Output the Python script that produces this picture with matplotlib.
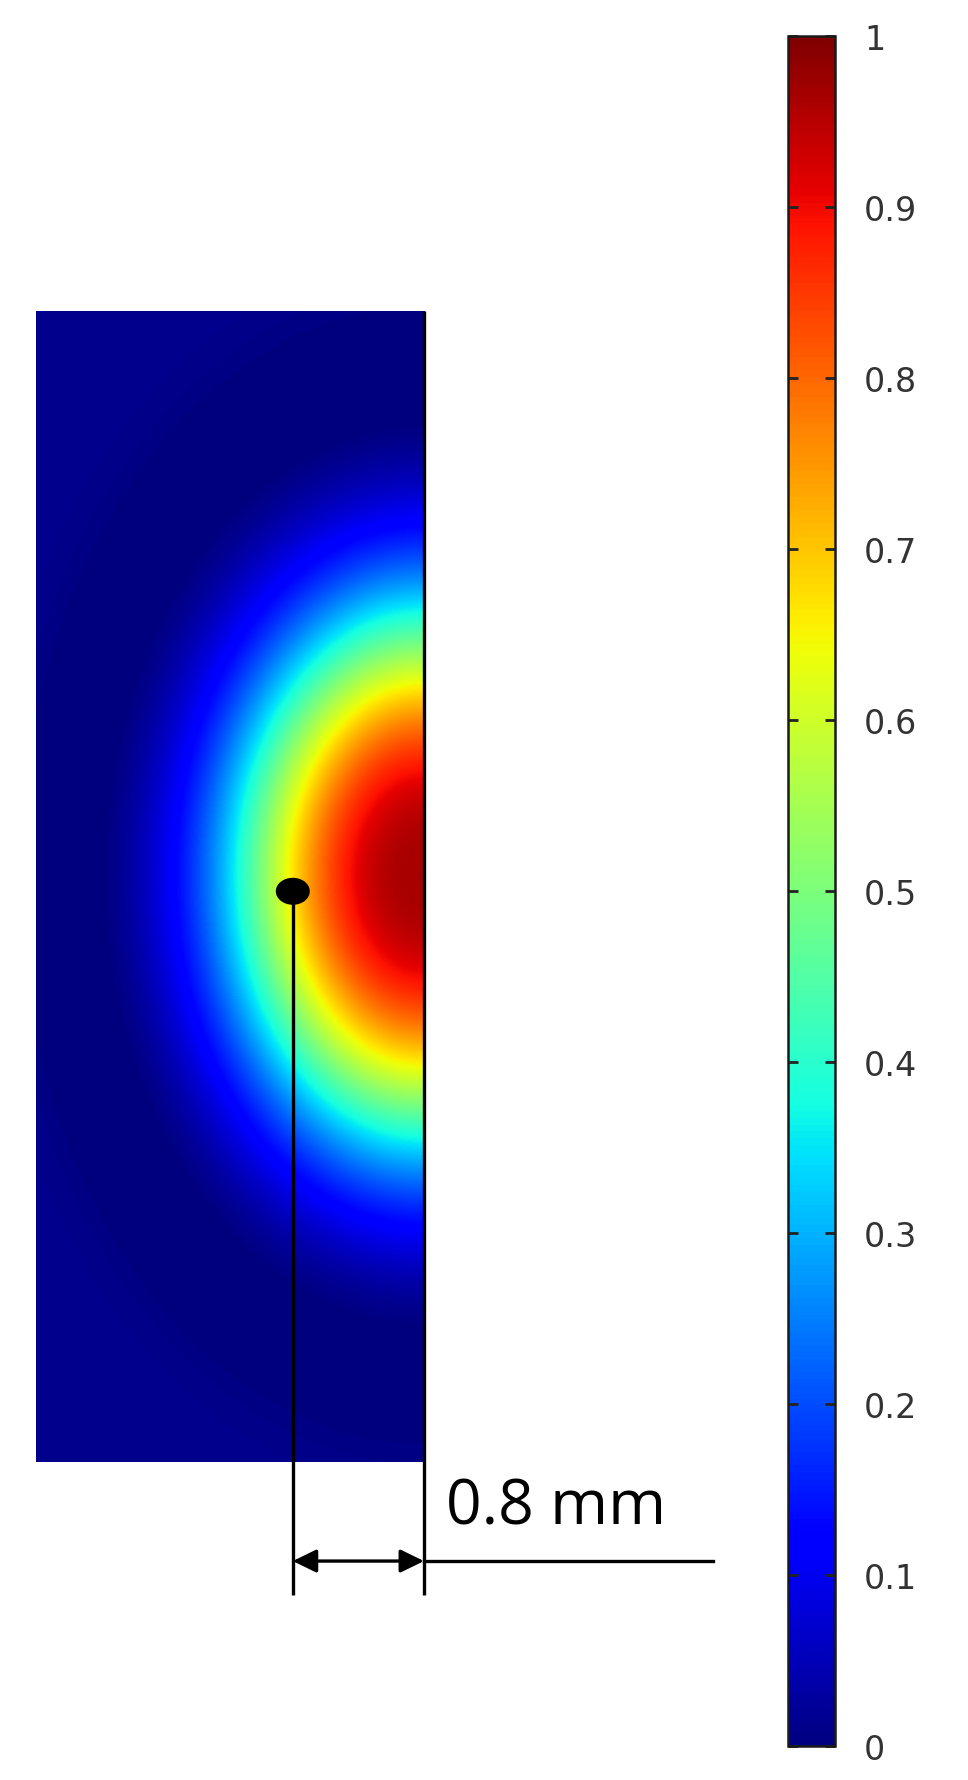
import numpy as np
import matplotlib
matplotlib.use("Agg")
import matplotlib.pyplot as plt
from matplotlib.patches import Ellipse

# ---- data (mm) ----
domain_x = [-2.366, 0.0]          # rectangle extent in x (mm), right edge at 0
domain_y = [0.0, 7.018]           # rectangle extent in y (mm)
source_center = [0.0, 3.58]       # centre of the normalised field on the right edge
source_peak = 0.95                # peak value at the edge
source_radius = [1.152, 1.62]     # horizontal / vertical decay lengths (mm)
source_exponent = 2.7             # profile sharpness
background_level = 0.015          # far-field level
halo_dip = [0.03, 1.8, 0.35]      # depth, normalised radius, width of the dark halo
probe_point = [-0.80, 3.48]       # black dot
probe_distance_label = "0.8 mm"
cbar_ticks = [0, 0.1, 0.2, 0.3, 0.4, 0.5, 0.6, 0.7, 0.8, 0.9, 1.0]
cbar_labels = ["0", "0.1", "0.2", "0.3", "0.4", "0.5", "0.6", "0.7", "0.8", "0.9", "1"]

W, H, DPI = 968, 1781, 100
PX_PER_MM = 164.0

fig = plt.figure(figsize=(W / DPI, H / DPI), dpi=DPI)
ax = fig.add_axes([0, 0, 1, 1])
x0_px, y0_px = 424.0, 1463.0  # pixel of (0, 0) mm
ax.set_xlim(-x0_px / PX_PER_MM, (W - x0_px) / PX_PER_MM)
ax.set_ylim(-(H - y0_px) / PX_PER_MM, y0_px / PX_PER_MM)
ax.axis("off")

# field
nx, ny = 400, 1200
xs = np.linspace(domain_x[0], domain_x[1], nx)
ys = np.linspace(domain_y[0], domain_y[1], ny)
X, Y = np.meshgrid(xs, ys)
R = np.sqrt(((X - source_center[0]) / source_radius[0]) ** 2 +
            ((Y - source_center[1]) / source_radius[1]) ** 2)
F = (source_peak * np.exp(-R ** source_exponent) + background_level
     - halo_dip[0] * np.exp(-((R - halo_dip[1]) / halo_dip[2]) ** 2))
F = np.clip(F, 0, 1)
im = ax.imshow(F, extent=[domain_x[0], domain_x[1], domain_y[0], domain_y[1]],
               origin="lower", cmap="jet", vmin=0, vmax=1, interpolation="bilinear",
               aspect="auto", zorder=1)

lw = 2.4
# right edge line, extended below the domain
y_ext = -0.811
ax.plot([0, 0], [domain_y[1], y_ext], color="black", lw=lw, zorder=3,
        solid_capstyle="butt")
# probe vertical line
ax.plot([probe_point[0], probe_point[0]], [probe_point[1], y_ext], color="black",
        lw=lw, zorder=3, solid_capstyle="butt")
# probe dot
ax.add_patch(Ellipse((probe_point[0], probe_point[1]), 34 / PX_PER_MM, 27 / PX_PER_MM,
                     facecolor="black", edgecolor="none", zorder=4))
# dimension arrow
y_arr = -0.604
ax.annotate("", xy=(probe_point[0], y_arr), xytext=(0, y_arr),
            arrowprops=dict(arrowstyle="<|-|>,head_length=0.45,head_width=0.22",
                            color="black", lw=lw,
                            mutation_scale=32, shrinkA=0, shrinkB=0), zorder=3)
ax.plot([0, (713 - x0_px) / PX_PER_MM], [y_arr, y_arr], color="black", lw=lw, zorder=3)
ax.text((446 - x0_px) / PX_PER_MM, -(1525 - y0_px) / PX_PER_MM, probe_distance_label,
        fontsize=45, family="Open Sans", color="black", ha="left", va="baseline")

# colorbar
cax = fig.add_axes([788 / W, (H - 1747) / H, 47 / W, 1710 / H])
cb = fig.colorbar(im, cax=cax, ticks=cbar_ticks)
cb.set_ticklabels(cbar_labels)
cb.outline.set_linewidth(1.8)
cb.outline.set_edgecolor("#1a1a1a")
cax.yaxis.set_ticks_position("both")
cax.tick_params(axis="y", direction="in", length=7, width=2, colors="#222222",
                labelleft=False, labelright=True, labelsize=24, pad=21,
                labelcolor="#333333")
for t in cax.get_yticklabels():
    t.set_family("DejaVu Sans")

fig.savefig("out.png", dpi=DPI)
